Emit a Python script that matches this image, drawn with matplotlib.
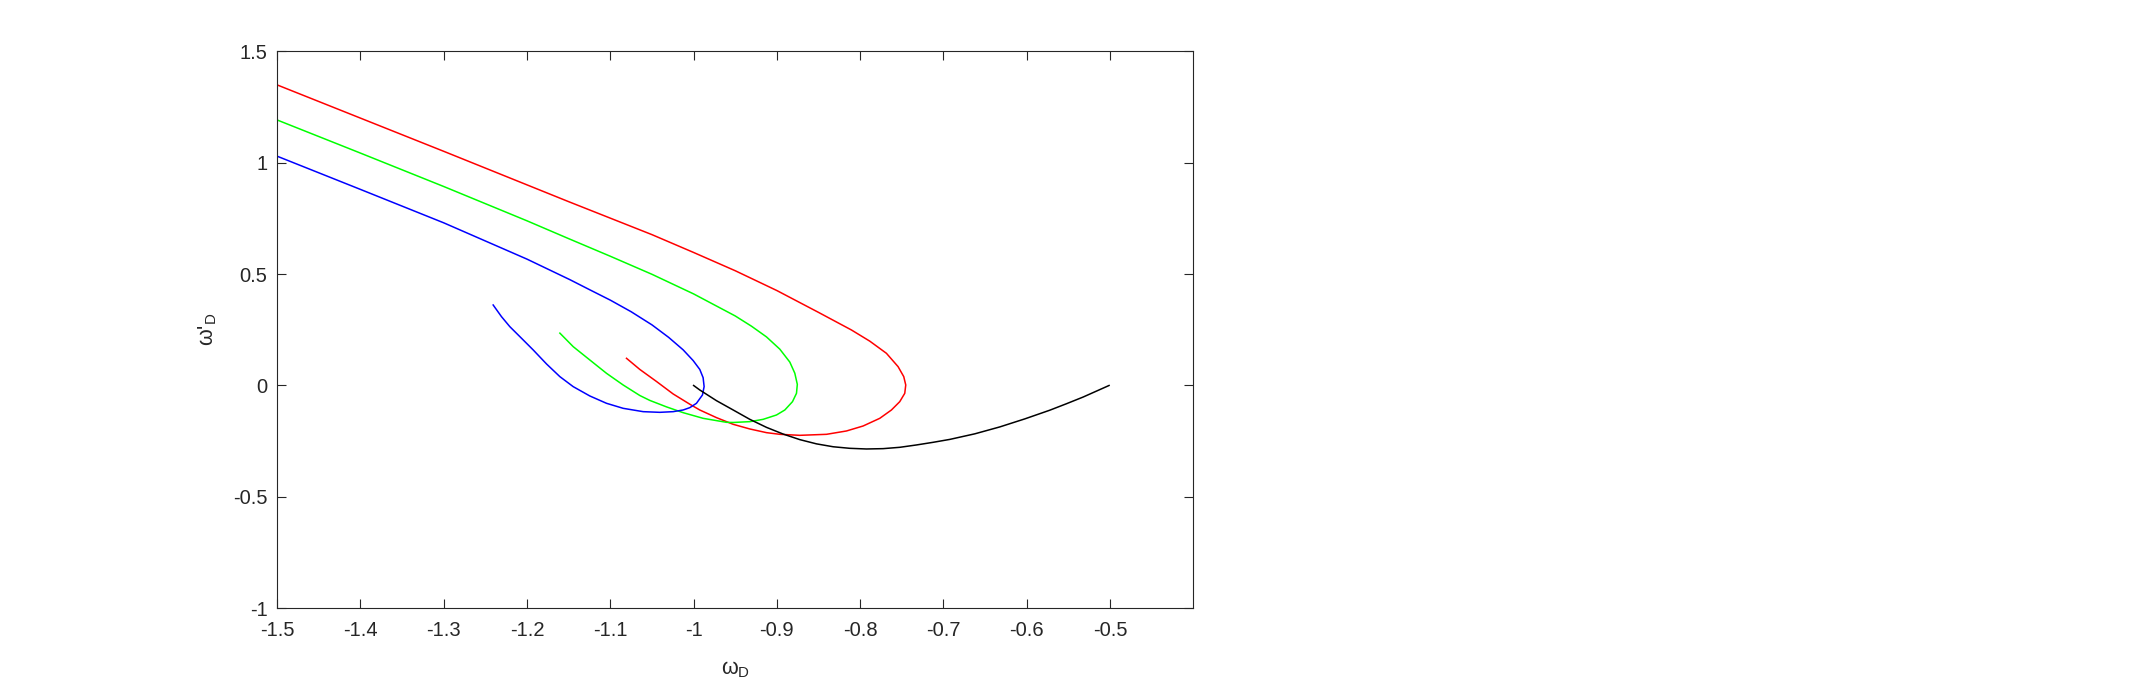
import matplotlib
matplotlib.use('Agg')
import matplotlib.pyplot as plt

plt.rcParams['font.family'] = ['Liberation Sans', 'DejaVu Sans']
plt.rcParams['axes.unicode_minus'] = False

# trajectories (omega_D, omega'_D)
red_x = [-1.5, -1.3, -1.15, -1.10, -1.05, -1.00, -0.95, -0.90, -0.85, -0.8105, -0.7885,
         -0.7685, -0.7545, -0.7477, -0.7453, -0.7465, -0.7525, -0.7625, -0.7765, -0.7965,
         -0.8165, -0.8405, -0.8725, -0.8965, -0.9125, -0.9325, -0.9525, -0.9725, -0.9926,
         -1.0046, -1.0246, -1.0446, -1.0646, -1.0806]
red_y = [1.349, 1.051, 0.825, 0.751, 0.677, 0.597, 0.515, 0.426, 0.328, 0.2491, 0.199,
         0.1444, 0.0845, 0.0397, 0.0022, -0.0352, -0.0726, -0.1100, -0.1474, -0.1818,
         -0.2042, -0.2192, -0.2237, -0.2192, -0.2117, -0.1952, -0.1743, -0.1444, -0.1100,
         -0.084, -0.038, 0.018, 0.072, 0.122]

green_x = [-1.5, -1.4, -1.3, -1.2, -1.15, -1.10, -1.05, -1.00, -0.95, -0.9305, -0.9125,
           -0.8965, -0.8845, -0.8785, -0.8755, -0.8765, -0.8813, -0.8905, -0.9005, -0.9165,
           -0.9325, -0.9525, -0.9606, -0.9886, -1.0126, -1.0326, -1.0526, -1.0646, -1.0846,
           -1.1046, -1.1246, -1.1446, -1.1606]
green_y = [1.1916, 1.043, 0.893, 0.739, 0.659, 0.580, 0.499, 0.411, 0.312, 0.266, 0.218,
           0.163, 0.105, 0.055, 0.005, -0.0352, -0.0726, -0.1100, -0.1324, -0.1519,
           -0.1623, -0.1660, -0.1653, -0.1474, -0.1220, -0.096, -0.067, -0.045, 0.0022,
           0.0546, 0.1144, 0.1743, 0.235]

blue_x = [-1.5, -1.4, -1.3, -1.2, -1.1486, -1.1242, -1.10, -1.075, -1.05, -1.03, -1.0126,
          -1.0006, -0.9926, -0.9886, -0.9874, -0.9894, -0.9966, -1.0046, -1.0126, -1.0246,
          -1.0406, -1.0606, -1.0846, -1.1046, -1.1246, -1.1446, -1.1606, -1.1766, -1.1926,
          -1.2066, -1.2207, -1.2307, -1.2407]
blue_y = [1.029, 0.880, 0.730, 0.567, 0.475, 0.4286, 0.383, 0.331, 0.272, 0.216, 0.160,
          0.112, 0.072, 0.035, -0.005, -0.0426, -0.0800, -0.0995, -0.1100, -0.1175,
          -0.1205, -0.1175, -0.1025, -0.0800, -0.0471, -0.0052, 0.0397, 0.0965, 0.1594,
          0.2117, 0.2641, 0.3089, 0.3613]

black_x = [-1.0, -0.9926, -0.9726, -0.9525, -0.9325, -0.9125, -0.8925, -0.8725, -0.8525,
           -0.8325, -0.8125, -0.7925, -0.7725, -0.7525, -0.7325, -0.7125, -0.6924, -0.6624,
           -0.6324, -0.6024, -0.5724, -0.5524, -0.5324, -0.5012]
black_y = [0.0, -0.0202, -0.0681, -0.1100, -0.152, -0.188, -0.218, -0.243, -0.262,
           -0.275, -0.282, -0.285, -0.2835, -0.2775, -0.2670, -0.2551, -0.242, -0.217,
           -0.186, -0.150, -0.111, -0.082, -0.052, 0.0]

x_ticks = [-1.5, -1.4, -1.3, -1.2, -1.1, -1.0, -0.9, -0.8, -0.7, -0.6, -0.5]
x_tick_labels = ['-1.5', '-1.4', '-1.3', '-1.2', '-1.1', '-1', '-0.9', '-0.8', '-0.7', '-0.6', '-0.5']
y_ticks = [-1, -0.5, 0, 0.5, 1, 1.5]
y_tick_labels = ['-1', '-0.5', '0', '0.5', '1', '1.5']

fig = plt.figure(figsize=(21.34, 6.83), dpi=100)
ax = fig.add_axes([0.1299, 0.1094, 0.4293, 0.8155])

lw = 1.1
ax.plot(red_x, red_y, color=(1, 0, 0), lw=lw)
ax.plot(green_x, green_y, color=(0, 1, 0), lw=lw)
ax.plot(blue_x, blue_y, color=(0, 0, 1), lw=lw)
ax.plot(black_x, black_y, color='k', lw=lw)

ax.set_xlim(-1.5, -0.4)
ax.set_ylim(-1, 1.5)
ax.set_xticks(x_ticks, labels=x_tick_labels)
ax.set_yticks(y_ticks, labels=y_tick_labels)

axcol = (0.15, 0.15, 0.15)
ax.tick_params(direction='in', length=6.5, width=0.8, top=True, right=True,
               labelsize=14.5, colors=axcol)
ax.tick_params(axis='x', pad=9)
ax.tick_params(axis='y', pad=7)
for sp in ax.spines.values():
    sp.set_color(axcol)
    sp.set_linewidth(0.8)

ax.set_xlabel('ω$_\\mathregular{D}$', fontsize=15.5, color=axcol, labelpad=14)
ax.set_ylabel("ω'$_\\mathregular{D}$", fontsize=15.5, color=axcol, labelpad=10)

fig.savefig('out.png', dpi=100)
